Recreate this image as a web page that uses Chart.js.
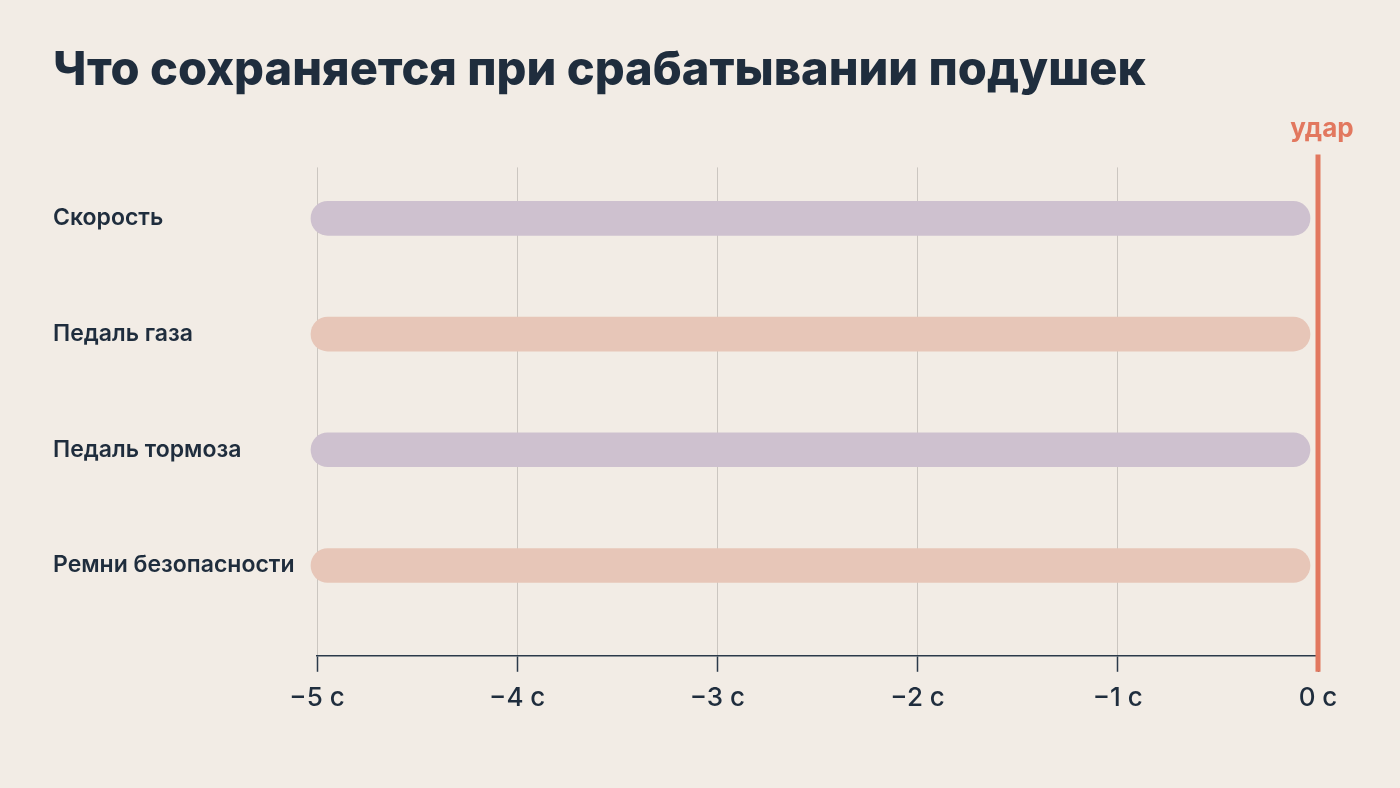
<!DOCTYPE html>
<html lang="ru">
<head>
<meta charset="utf-8">
<title>Что сохраняется при срабатывании подушек</title>
<script src="https://cdn.jsdelivr.net/npm/chart.js@4/dist/chart.umd.min.js"></script>
<style>
    html, body { margin: 0; padding: 0; background: #f2ece5; }
    #wrap { width: 1400px; height: 788px; }
</style>
</head>
<body>
<div id="wrap"><canvas id="chart"></canvas></div>
<script>
// Chart data
const categories = ['Скорость', 'Педаль газа', 'Педаль тормоза', 'Ремни безопасности'];
const barStart = [-5.03, -5.03, -5.03, -5.03];
const barEnd = [-0.04, -0.04, -0.04, -0.04];
const barColors = ['#cec1cf', '#e7c6b8', '#cec1cf', '#e7c6b8'];
const xTickValues = [-5, -4, -3, -2, -1, 0];
const xTickLabels = ['−5 с', '−4 с', '−3 с', '−2 с', '−1 с', '0 с'];
const impactTime = 0;
const impactLabel = 'удар';

const ink = '#1f2d3d';
const accent = '#e2785f';
const fontFamily = 'Inter, "Noto Sans", sans-serif';

// Impact marker: vertical red line with label above
const impactMarker = {
    id: 'impactMarker',
    afterDatasetsDraw(chart) {
        const { ctx, scales: { x }, chartArea } = chart;
        const px = x.getPixelForValue(impactTime);
        ctx.save();
        ctx.strokeStyle = accent;
        ctx.lineWidth = 5;
        ctx.beginPath();
        ctx.moveTo(px, chartArea.top - 13);
        ctx.lineTo(px, chartArea.bottom + 16);
        ctx.stroke();
        ctx.fillStyle = accent;
        ctx.font = `700 26px ${fontFamily}`;
        ctx.textAlign = 'center';
        ctx.textBaseline = 'alphabetic';
        ctx.fillText(impactLabel, px + 4, chartArea.top - 30);
        ctx.restore();
    }
};

const ctx = document.getElementById('chart').getContext('2d');
new Chart(ctx, {
    type: 'bar',
    data: {
        datasets: [{
            data: categories.map((c, i) => ({ y: i, x: [barStart[i], barEnd[i]] })),
            backgroundColor: barColors,
            borderRadius: 17,
            borderSkipped: false,
            barThickness: 34,
            clip: false
        }]
    },
    options: {
        indexAxis: 'y',
        responsive: true,
        maintainAspectRatio: false,
        animation: false,
        layout: {
            padding: { left: 53, right: 82, top: 0, bottom: 63 }
        },
        plugins: {
            legend: { display: false },
            tooltip: { enabled: false },
            title: {
                display: true,
                text: 'Что сохраняется при срабатывании подушек',
                align: 'start',
                color: ink,
                font: { family: fontFamily, size: 47, weight: 800, lineHeight: 1.2 },
                padding: { top: 43, bottom: 68 }
            }
        },
        scales: {
            x: {
                type: 'linear',
                min: -5,
                max: 0,
                afterBuildTicks: (scale) => {
                    scale.ticks = xTickValues.map(v => ({ value: v }));
                },
                ticks: {
                    color: ink,
                    padding: 11,
                    maxRotation: 0,
                    font: { family: fontFamily, size: 26, weight: 500 },
                    callback: (value, index) => xTickLabels[index]
                },
                grid: {
                    color: '#cbc6c0',
                    lineWidth: 1,
                    tickLength: 16,
                    tickColor: '#2b3a4a',
                    tickWidth: 1.5
                },
                border: { display: true, color: '#2b3a4a', width: 1.5 }
            },
            y: {
                type: 'linear',
                reverse: true,
                offset: false,
                min: -0.44,
                max: 3.78,
                afterBuildTicks: (scale) => {
                    scale.ticks = categories.map((c, i) => ({ value: i }));
                },
                afterFit: (scale) => { scale.width = 264; },
                ticks: {
                    color: ink,
                    crossAlign: 'far',
                    font: { family: fontFamily, size: 23, weight: 600 },
                    callback: (value) => categories[value]
                },
                grid: { display: false, offset: false },
                border: { display: false }
            }
        }
    },
    plugins: [impactMarker]
});
</script>
</body>
</html>
